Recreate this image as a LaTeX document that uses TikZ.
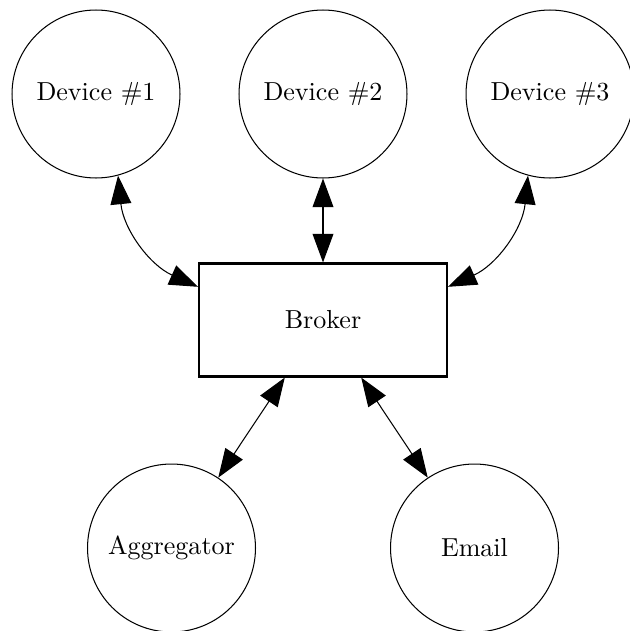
\documentclass[tikz,border=0pt]{standalone}
\usetikzlibrary{arrows.meta}
\begin{document}
\begin{tikzpicture}[x=0.384pt,y=-0.384pt,
  endpoint/.style={circle,draw,line width=0.4pt,inner sep=0pt,minimum size=64.5pt},
  hub/.style={rectangle,draw,line width=0.8pt,inner sep=0pt,minimum width=95.2pt,minimum height=43.4pt},
  link/.style={line width=0.4pt,{Triangle[length=11pt,width=8pt]}-{Triangle[length=11pt,width=8pt]}}]
  \useasboundingbox (0,0) rectangle (629,631);
  \node[endpoint] (d1) at (96,94) {Device \#1};
  \node[endpoint] (d2) at (323,94) {Device \#2};
  \node[endpoint] (d3) at (550,94) {Device \#3};
  \node[hub] (broker) at (323,320) {Broker};
  \node[endpoint] (agg) at (171.5,548) {Aggregator};
  \node[endpoint] (mail) at (474.5,548) {Email};
  \draw[link] (d1) to[bend right=30] (broker);
  \draw[link] (d2) -- (broker);
  \draw[link] (d3) to[bend left=30] (broker);
  \draw[link] (broker) -- (agg);
  \draw[link] (broker) -- (mail);
\end{tikzpicture}
\end{document}
